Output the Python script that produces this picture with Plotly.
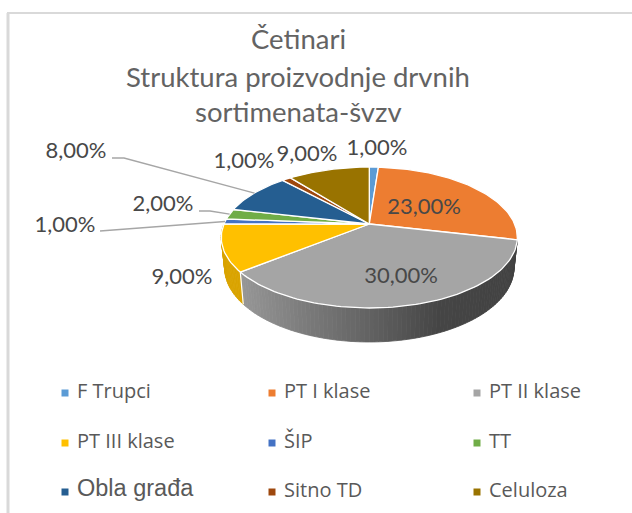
import math
import plotly.graph_objects as go

categories = ["F Trupci", "PT I klase", "PT II klase", "PT III klase", "ŠIP", "TT", "Obla građa", "Sitno TD", "Celuloza"]
values = [1, 23, 30, 9, 1, 2, 8, 1, 9]
value_labels = ["1,00%", "23,00%", "30,00%", "9,00%", "1,00%", "2,00%", "8,00%", "1,00%", "9,00%"]
title_lines = ["Četinari", "Struktura proizvodnje drvnih", "sortimenata-švzv"]

colors = ["#5B9BD5", "#ED7D31", "#A5A5A5", "#FFC000", "#4472C4", "#70AD47", "#255E91", "#9E480E", "#997300"]
label_pos = [(377, 149), (424, 208), (401, 277), (182, 278), (65, 226), (163, 205), (76, 152), (244, 162), (307, 155)]
leaders = {4: [(100, 231)], 5: [(199, 211), (210, 211)], 6: [(112, 158), (124, 158)]}
leg_x = [65, 272, 477]
leg_y = [393, 443, 492]

# Pie projection (perspective view of a disc)
CX, CY, K, A, B = 369.3, 224, 0.1915, 67.9, 145.3
S_X, S_Y, DEPTH = 0.977, 1.05, 29.8


def top(theta):
    t = math.radians(theta)
    u, v = math.sin(t), math.cos(t)
    w = 1 + K * v
    return CX + B * u / w, CY - A * v / w


def bottom(theta):
    x, y = top(theta)
    return CX + (x - CX) * S_X, CY + (y - CY) * S_Y + DEPTH


def lerp_hex(stops, x):
    if x <= stops[0][0]:
        return stops[0][1]
    for (x0, c0), (x1, c1) in zip(stops, stops[1:]):
        if x <= x1:
            f = (x - x0) / (x1 - x0)
            a = [int(c0[i:i + 2], 16) for i in (1, 3, 5)]
            b = [int(c1[i:i + 2], 16) for i in (1, 3, 5)]
            return "#%02x%02x%02x" % tuple(round(p + (q - p) * f) for p, q in zip(a, b))
    return stops[-1][1]


GRAY_STOPS = [(240, "#979797"), (300, "#7d7d7d"), (370, "#626262"), (440, "#454545"), (520, "#424242")]
YELLOW_STOPS = [(220, "#d9a300"), (245, "#d9a300")]

total = sum(values)
fig = go.Figure()


def poly(xs, ys, fill, line=None, width=0):
    fig.add_trace(go.Scatter(
        x=xs, y=ys, mode="lines", fill="toself", fillcolor=fill,
        line=dict(color=line or fill, width=width or 0.8), hoverinfo="skip", showlegend=False))


# Side wall
cum = 0
bounds = []
for v in values:
    bounds.append((cum / total * 360, (cum + v) / total * 360))
    cum += v

for idx, stops in ((2, GRAY_STOPS), (3, YELLOW_STOPS)):
    a0, a1 = bounds[idx]
    n = max(2, int((a1 - a0) / 1.5))
    for i in range(n):
        p = a0 + (a1 - a0) * i / n
        q = a0 + (a1 - a0) * (i + 1) / n
        xp, yp = top(p)
        xq, yq = top(q)
        bxp, byp = bottom(p)
        bxq, byq = bottom(q)
        poly([xp, xq, bxq, bxp, xp], [yp, yq, byq, byp, yp], lerp_hex(stops, (xp + xq) / 2))

# Wall divider
for idx in (3,):
    a = bounds[idx][0]
    p0, p1 = top(a), bottom(a)
    fig.add_trace(go.Scatter(x=[p0[0], p1[0]], y=[p0[1], p1[1]], mode="lines",
                             line=dict(color="#ffffff", width=1.2), hoverinfo="skip", showlegend=False))

# Top faces
for (a0, a1), col in zip(bounds, colors):
    n = max(3, int((a1 - a0) / 1.5))
    pts = [top(a0 + (a1 - a0) * i / n) for i in range(n + 1)]
    xs = [CX] + [p[0] for p in pts] + [CX]
    ys = [CY] + [p[1] for p in pts] + [CY]
    poly(xs, ys, col, "#ffffff", 1.3)

# Leader lines
for idx, pts in leaders.items():
    mid = sum(bounds[idx]) / 2
    end = top(mid)
    fig.add_trace(go.Scatter(x=[p[0] for p in pts] + [end[0]], y=[p[1] for p in pts] + [end[1]],
                             mode="lines", line=dict(color="#a6a6a6", width=1.3),
                             hoverinfo="skip", showlegend=False))

# Value labels
fig.add_trace(go.Scatter(
    x=[p[0] for p in label_pos], y=[p[1] for p in label_pos], mode="text",
    text=value_labels, textposition="middle center",
    textfont=dict(family="Lato", size=22, color="#484848"), hoverinfo="skip", showlegend=False))

# Legend
for i, (cat, col) in enumerate(zip(categories, colors)):
    lx, ly = leg_x[i % 3], leg_y[i // 3]
    fam, size = ("Liberation Sans", 23.5) if cat == "Obla građa" else ("Open Sans", 20)
    fig.add_trace(go.Scatter(
        x=[lx], y=[ly], mode="markers", marker=dict(symbol="square", size=7, color=col),
        hoverinfo="skip", showlegend=False))
    fig.add_trace(go.Scatter(
        x=[lx + 12], y=[ly - (2 if cat == "Obla građa" else 0)], mode="text", text=[cat],
        textposition="middle right", textfont=dict(family=fam, size=size, color="#595959"),
        hoverinfo="skip", showlegend=False))

# Title
for line, y in zip(title_lines, (38, 76, 111)):
    fig.add_annotation(x=298, y=y, text=line, showarrow=False, xref="x", yref="y",
                       font=dict(family="Lato", size=27.5, color="#636363"))

# Chart frame
fig.add_shape(type="line", x0=8, x1=8, y0=13, y1=513, line=dict(color="#d9d9d9", width=3))
fig.add_shape(type="line", x0=7, x1=632, y0=13, y1=13, line=dict(color="#d9d9d9", width=2))

fig.update_layout(
    width=632, height=513, margin=dict(l=0, r=0, t=0, b=0),
    paper_bgcolor="#ffffff", plot_bgcolor="#ffffff", showlegend=False,
    xaxis=dict(range=[0, 632], visible=False, fixedrange=True),
    yaxis=dict(range=[513, 0], visible=False, fixedrange=True),
)
fig.write_html("out.html", config=dict(displayModeBar=False),
               post_script="document.body.style.margin='0';document.body.style.overflow='hidden';")
